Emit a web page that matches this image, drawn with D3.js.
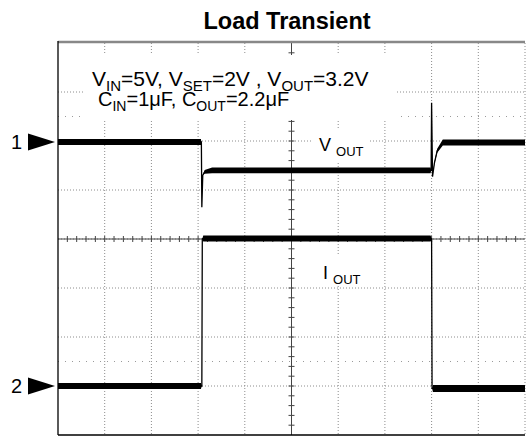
<!DOCTYPE html>
<html lang="en">
<head>
  <meta charset="UTF-8">
  <title>Load Transient</title>
  <script src="https://d3js.org/d3.v7.min.js"></script>
  <style>
    body { margin: 0; background: #fff; }
    svg text { font-family: "Liberation Sans", Arial, sans-serif; fill: #000; }
    .grid { stroke: #8c8c8c; stroke-width: 1; stroke-dasharray: 1,2; }
    .ghost { stroke: #9a9a9a; stroke-width: 1; stroke-dasharray: 1,6; }
    .axis { stroke: #444; stroke-width: 1; }
    .trace { fill: #000; }
    .edge { fill: none; stroke: #000; stroke-width: 1.3; }
    .mask { fill: #fff; stroke: none; }
  </style>
</head>
<body>
<script>
// scope screen is 10 x 8 divisions
var width = 527,
    height = 436;

var xDivs = d3.range(0, 11);
var yDivs = d3.range(0, 9);

// traces: [time (div), level (div), noise half-band (div)]
var vout = [
  [0, 5.98, 0.06], [3.06, 5.98, 0.06], [3.07, 5.98, 0], [3.08, 4.65, 0],
  [3.10, 5.30, 0], [3.14, 5.37, 0.04], [3.30, 5.40, 0.06], [7.98, 5.40, 0.06],
  [7.99, 5.40, 0], [8.00, 6.78, 0], [8.02, 5.27, 0], [8.06, 5.55, 0.02],
  [8.12, 5.80, 0.04], [8.24, 5.97, 0.06], [10, 5.97, 0.06]
];
var iout = [
  [0, 1.00, 0.06], [3.06, 1.00, 0.06], [3.08, 1.00, 0], [3.09, 4.00, 0],
  [3.11, 4.01, 0.06], [7.98, 4.01, 0.06], [8.00, 4.00, 0], [8.01, 0.95, 0],
  [8.03, 0.95, 0.07], [10, 0.95, 0.07]
];

// channel markers (ground reference levels)
var markers = [
  { name: "1", level: 5.98 },
  { name: "2", level: 1.00 }
];

// annotation lines, "_" marks a subscript part
var noteLine1 = ["V", "_IN", "=5V, V", "_SET", "=2V , V", "_OUT", "=3.2V"];
var noteLine2 = ["C", "_IN", "=1\u03BCF, C", "_OUT", "=2.2\u03BCF"];

var svg = d3.select("body").append("svg")
    .attr("width", width)
    .attr("height", height);

var x = d3.scaleLinear().domain([0, 10]).range([58, 525]);
var y = d3.scaleLinear().domain([0, 8]).range([435, 43]);

svg.append("text")
    .attr("x", 287).attr("y", 29)
    .attr("text-anchor", "middle")
    .style("font-weight", "bold")
    .style("font-size", "23.5px")
    .text("Load Transient");

var gridG = svg.append("g");

// dotted grid
gridG.selectAll(".gx").data(xDivs.slice(1)).enter().append("line")
    .attr("class", "grid")
    .attr("x1", function(d) { return x(d); }).attr("x2", function(d) { return x(d); })
    .attr("y1", y(8)).attr("y2", y(0));
gridG.selectAll(".gy").data(yDivs.slice(1, 8)).enter().append("line")
    .attr("class", "grid")
    .attr("x1", x(0)).attr("x2", x(10))
    .attr("y1", function(d) { return y(d); }).attr("y2", function(d) { return y(d); });

// faint half-div rows
gridG.selectAll(".gh").data([1.5, 6.5]).enter().append("line")
    .attr("class", "ghost")
    .attr("x1", x(0)).attr("x2", x(10))
    .attr("y1", function(d) { return y(d); }).attr("y2", function(d) { return y(d); });

// centre axes with minor ticks
gridG.append("line").attr("class", "axis")
    .attr("x1", x(5)).attr("x2", x(5)).attr("y1", y(8)).attr("y2", y(0));
gridG.append("line").attr("class", "axis")
    .attr("x1", x(0)).attr("x2", x(10)).attr("y1", y(4)).attr("y2", y(4));
gridG.selectAll(".ty").data(d3.range(1, 40)).enter().append("line")
    .attr("class", "axis")
    .attr("x1", x(5) - 3).attr("x2", x(5) + 3)
    .attr("y1", function(d) { return y(d / 5); }).attr("y2", function(d) { return y(d / 5); });
gridG.selectAll(".tx").data(d3.range(1, 50)).enter().append("line")
    .attr("class", "axis")
    .attr("y1", y(4) - 3).attr("y2", y(4) + 3)
    .attr("x1", function(d) { return x(d / 5); }).attr("x2", function(d) { return x(d / 5); });

// white boxes behind labels
var maskG = svg.append("g");
maskG.append("rect").attr("class", "mask").attr("x", 83).attr("y", 55).attr("width", 314).attr("height", 65);
maskG.append("rect").attr("class", "mask").attr("x", 312).attr("y", 128).attr("width", 56).attr("height", 34);
maskG.append("rect").attr("class", "mask").attr("x", 314).attr("y", 256).attr("width", 52).attr("height", 30);

// traces
var band = d3.area()
    .x(function(d) { return x(d[0]); })
    .y0(function(d) { return y(d[1] - d[2]); })
    .y1(function(d) { return y(d[1] + d[2]); });
var line = d3.line()
    .x(function(d) { return x(d[0]); })
    .y(function(d) { return y(d[1]); });

[vout, iout].forEach(function(s) {
  svg.append("path").attr("class", "trace").attr("d", band(s));
  svg.append("path").attr("class", "edge").attr("d", line(s));
});

// frame
svg.append("line").attr("x1", x(0)).attr("x2", x(10)).attr("y1", y(8) - 1).attr("y2", y(8) - 1)
    .attr("stroke", "#888").attr("stroke-width", 2.5);
svg.append("line").attr("x1", x(0)).attr("x2", x(0)).attr("y1", y(8) - 2).attr("y2", y(0))
    .attr("stroke", "#000").attr("stroke-width", 1.3);
svg.append("line").attr("x1", x(0)).attr("x2", x(10)).attr("y1", y(0)).attr("y2", y(0))
    .attr("stroke", "#000").attr("stroke-width", 1.3);

// channel markers
var mk = svg.selectAll(".mk").data(markers).enter().append("g");
mk.append("text")
    .attr("x", 11).attr("y", function(d) { return y(d.level) + 7; })
    .style("font-size", "20px")
    .text(function(d) { return d.name; });
mk.append("path")
    .attr("d", function(d) {
      var c = y(d.level);
      return "M28," + (c - 8.5) + "L55," + c + "L28," + (c + 8.5) + "Z";
    })
    .attr("fill", "#000");

// append parts to a text element, lowering "_" parts as subscripts
function addParts(t, parts, size, firstAttrs) {
  var down = false;
  parts.forEach(function(p, i) {
    var sub = p.charAt(0) === "_";
    var dy = 0;
    if (sub && !down) { dy = 5; down = true; }
    else if (!sub && down) { dy = -5; down = false; }
    var ts = t.append("tspan")
        .style("font-size", sub ? Math.round(size * 0.72) + "px" : size + "px")
        .text(sub ? p.slice(1) : p);
    if (i === 0 && firstAttrs) {
      ts.attr("x", firstAttrs.x).attr("y", firstAttrs.y);
    } else {
      ts.attr("dy", dy);
    }
  });
}

var note = svg.append("text");
addParts(note, noteLine1, 21, { x: 92, y: 86 });
addParts(note, noteLine2, 20, { x: 98, y: 106 });

var vlab = svg.append("text").attr("x", 319).attr("y", 151);
addParts(vlab, ["V ", "_OUT"], 18);
var ilab = svg.append("text").attr("x", 323).attr("y", 279);
addParts(ilab, ["I ", "_OUT"], 18);
</script>
</body>
</html>
